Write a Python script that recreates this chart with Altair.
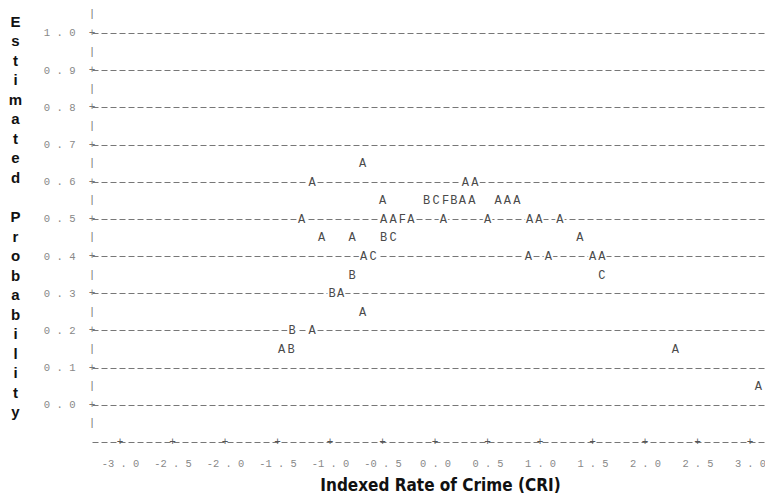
import altair as alt
import pandas as pd

# Plotted symbols (A = 1 obs, B = 2 obs, ...)
x_vals = [-0.69,
          -1.17, 0.29, 0.38,
          -0.50, -0.08, 0.01, 0.10, 0.18, 0.26, 0.35, 0.60, 0.69, 0.78,
          -1.27, -0.49, -0.40, -0.31, -0.23, 0.08, 0.50, 0.90, 0.99, 1.19,
          -1.08, -0.79, -0.49, -0.40, 1.38,
          -0.68, -0.59, 0.89, 1.08, 1.50, 1.59,
          -0.79, 1.59,
          -0.98, -0.90,
          -0.69,
          -1.36, -1.17,
          -1.46, -1.37, 2.29,
          3.08]
y_vals = [0.65,
          0.60, 0.60, 0.60,
          0.55, 0.55, 0.55, 0.55, 0.55, 0.55, 0.55, 0.55, 0.55, 0.55,
          0.50, 0.50, 0.50, 0.50, 0.50, 0.50, 0.50, 0.50, 0.50, 0.50,
          0.45, 0.45, 0.45, 0.45, 0.45,
          0.40, 0.40, 0.40, 0.40, 0.40, 0.40,
          0.35, 0.35,
          0.30, 0.30,
          0.25,
          0.20, 0.20,
          0.15, 0.15, 0.15,
          0.05]
symbols = ["A",
           "A", "A", "A",
           "A", "B", "C", "F", "B", "A", "A", "A", "A", "A",
           "A", "A", "A", "F", "A", "A", "A", "A", "A", "A",
           "A", "A", "B", "C", "A",
           "A", "C", "A", "A", "A", "A",
           "B", "C",
           "B", "A",
           "A",
           "B", "A",
           "A", "B", "A",
           "A"]

y_ticks = [0.0, 0.1, 0.2, 0.3, 0.4, 0.5, 0.6, 0.7, 0.8, 0.9, 1.0]
y_half_rows = [1.05, 0.95, 0.85, 0.75, 0.65, 0.55, 0.45, 0.35, 0.25, 0.15, 0.05, -0.05]
x_ticks = [-3.0, -2.5, -2.0, -1.5, -1.0, -0.5, 0.0, 0.5, 1.0, 1.5, 2.0, 2.5, 3.0]
y_title_chars = ["E", "s", "t", "i", "m", "a", "t", "e", "d", "\u2800",
                 "P", "r", "o", "b", "a", "b", "i", "l", "i", "t", "y"]
x_title = "Indexed Rate of Crime (CRI)"

X_DOMAIN = [-3.2667, 3.1429]
Y_DOMAIN = [-0.1, 1.0618]
W, H = 673, 432
MONO = "Liberation Mono"
GRID = "#777777"

pts = pd.DataFrame({"x": x_vals, "y": y_vals, "s": symbols})
vaxis = pd.DataFrame({"y": y_half_rows + y_ticks,
                      "c": ["|"] * len(y_half_rows) + ["+"] * len(y_ticks)})
haxis = pd.DataFrame({"x": x_ticks})

xscale = alt.Scale(domain=X_DOMAIN, nice=False, zero=False)
yscale = alt.Scale(domain=Y_DOMAIN, nice=False, zero=False)

x_axis = alt.Axis(
    values=x_ticks,
    labelExpr="(datum.value < 0 ? '-' : '') + replace(format(abs(datum.value), '.1f'), '.', ' . ')",
    labelFont=MONO, labelFontSize=10.4, labelColor="#888888",
    labelBaseline="middle", labelPadding=21, labelFlush=False, labelOverlap=False,
    ticks=False, tickSize=0, grid=False,
    domain=True, domainDash=[6, 3], domainColor=GRID, domainWidth=1,
    title=x_title, titleFont="'DejaVu Sans Condensed', 'Liberation Sans', sans-serif",
    titleFontSize=17, titleFontWeight="bold", titleColor="#111111",
    titleX=348, titleY=48, titleAlign="center", titleBaseline="alphabetic",
    titleAnchor="start",
)
y_axis = alt.Axis(
    values=y_ticks,
    labelExpr="replace(format(datum.value, '.1f'), '.', ' . ')",
    labelFont=MONO, labelFontSize=10.6, labelColor="#888888",
    labelBaseline="middle", labelPadding=17, labelFlush=False, labelOverlap=False,
    ticks=False, tickSize=0, domain=False,
    grid=True, gridDash=[6, 3], gridColor=GRID, gridWidth=1, gridOpacity=1,
    title=y_title_chars, titleAngle=0, titleFont="Liberation Sans",
    titleFontSize=15, titleFontWeight="bold", titleColor="#111111",
    titleLineHeight=19.55, titleX=-77, titleY=4, titleAlign="center",
    titleBaseline="top", titleAnchor="start",
)

base = alt.Chart(pts).encode(
    x=alt.X("x:Q", scale=xscale, axis=x_axis),
    y=alt.Y("y:Q", scale=yscale, axis=y_axis),
    text="s:N",
)
mask = base.mark_text(font=MONO, fontSize=12, fill="white", stroke="white",
                      strokeWidth=4, baseline="middle")
letters = base.mark_text(font=MONO, fontSize=12, color="#4a4a4a", baseline="middle")

vrule = alt.Chart(vaxis).mark_text(font=MONO, fontSize=11, color="#777777",
                                   baseline="middle").encode(
    x=alt.value(0),
    y=alt.Y("y:Q", scale=yscale),
    text="c:N",
)
hplus = alt.Chart(haxis).mark_text(font=MONO, fontSize=11, color="#555555",
                                   baseline="middle", text="+").encode(
    x=alt.X("x:Q", scale=xscale),
    y=alt.value(H),
)

chart = alt.layer(mask, letters, vrule, hplus).properties(
    width=W, height=H,
    padding={"left": 84, "top": 2, "right": 0, "bottom": 51},
    autosize=alt.AutoSizeParams(type="none"),
    background="white",
).configure_view(stroke=None)

chart.save("out.html", embed_options={"renderer": "svg", "actions": False})
